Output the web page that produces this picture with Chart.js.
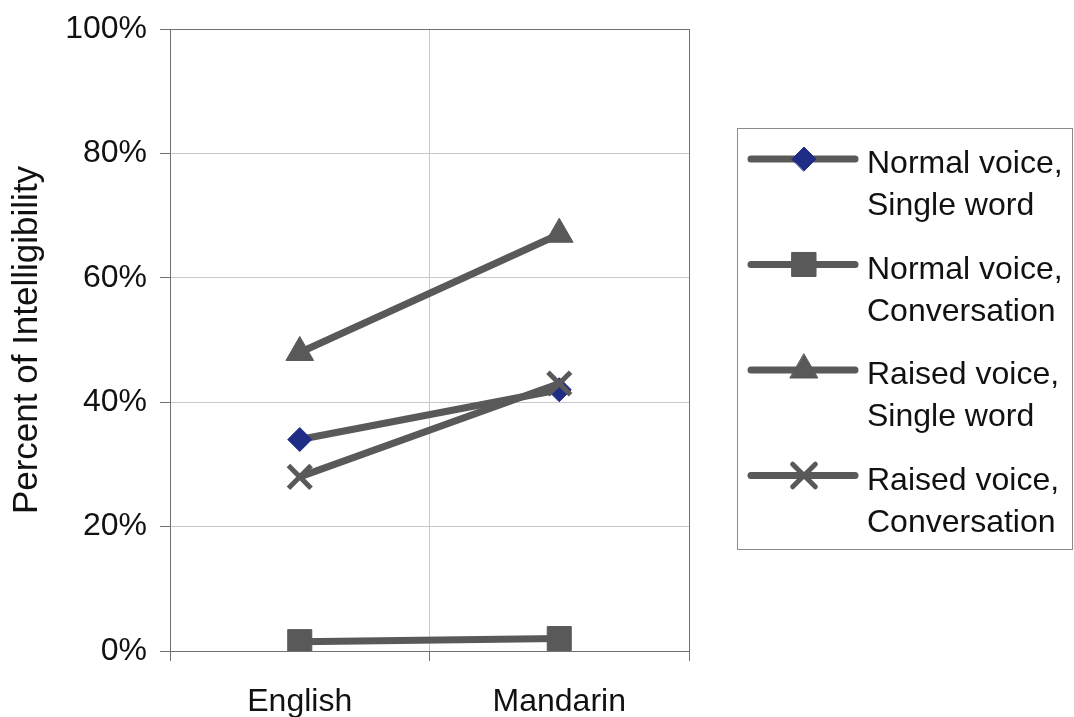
<!DOCTYPE html>
<html>
<head>
<meta charset="utf-8">
<script src="https://cdn.jsdelivr.net/npm/chart.js@4/dist/chart.umd.min.js"></script>
<style>
  body { margin: 0; background: #fff; }
  #wrap { width: 1074px; height: 717px; }
</style>
</head>
<body>
<div id="wrap"><canvas id="intelligibilityChart" width="1074" height="717"></canvas></div>
<script>
// categories on the x axis
const categories = ['English', 'Mandarin'];

// percent of intelligibility per series
const normalSingleWord = [34, 42];
const normalConversation = [1.5, 2];
const raisedSingleWord = [48, 67];
const raisedConversation = [28, 43];

// legend text, two lines each
const seriesNames = [
  ['Normal voice,', 'Single word'],
  ['Normal voice,', 'Conversation'],
  ['Raised voice,', 'Single word'],
  ['Raised voice,', 'Conversation']
];

// y axis ticks
const yTickValues = [0, 20, 40, 60, 80, 100];

const FONT = '"Liberation Sans", Arial, sans-serif';
const LINE = '#595959';
const FRAME = '#707070';
const GRID = '#c8c8c8';

// legend drawn in a box on the right, like the Excel one
const boxLegend = {
  id: 'boxLegend',
  afterDraw(chart) {
    const ctx = chart.ctx;
    ctx.save();
    ctx.strokeStyle = '#8a8a8a';
    ctx.lineWidth = 1;
    ctx.strokeRect(737.5, 128.5, 335, 421);

    chart.data.datasets.forEach((ds, i) => {
      const y = 159 + i * 105.5;
      // line sample
      ctx.strokeStyle = ds.borderColor;
      ctx.lineWidth = ds.borderWidth;
      ctx.lineCap = 'round';
      ctx.beginPath();
      ctx.moveTo(751, y);
      ctx.lineTo(855, y);
      ctx.stroke();
      // marker
      ctx.fillStyle = ds.pointBackgroundColor;
      ctx.strokeStyle = ds.pointBorderColor;
      ctx.lineWidth = ds.pointBorderWidth;
      Chart.helpers.drawPoint(ctx, {
        pointStyle: ds.pointStyle,
        radius: ds.pointRadius,
        rotation: 0,
        borderWidth: ds.pointBorderWidth
      }, 804, y);
      // text
      ctx.fillStyle = '#111';
      ctx.font = '32px ' + FONT;
      ctx.textAlign = 'left';
      ctx.textBaseline = 'alphabetic';
      seriesNames[i].forEach((line, k) => {
        ctx.fillText(line, 867, y + 14 + k * 42);
      });
    });
    ctx.restore();
  }
};

const ctx = document.getElementById('intelligibilityChart').getContext('2d');

new Chart(ctx, {
  type: 'line',
  data: {
    labels: categories,
    datasets: [
      {
        label: seriesNames[0].join(' '),
        data: normalSingleWord,
        borderColor: LINE,
        borderWidth: 7,
        pointStyle: 'rectRot',
        pointRadius: 12,
        pointBackgroundColor: '#1f2d86',
        pointBorderColor: '#1f2d86',
        pointBorderWidth: 1,
        order: 1
      },
      {
        label: seriesNames[1].join(' '),
        data: normalConversation,
        borderColor: LINE,
        borderWidth: 7,
        pointStyle: 'rect',
        pointRadius: 17,
        pointBackgroundColor: LINE,
        pointBorderColor: LINE,
        pointBorderWidth: 1,
        order: 2
      },
      {
        label: seriesNames[2].join(' '),
        data: raisedSingleWord,
        borderColor: LINE,
        borderWidth: 7,
        pointStyle: 'triangle',
        pointRadius: 16,
        pointBackgroundColor: LINE,
        pointBorderColor: LINE,
        pointBorderWidth: 1,
        order: 3
      },
      {
        label: seriesNames[3].join(' '),
        data: raisedConversation,
        borderColor: LINE,
        borderWidth: 7,
        pointStyle: 'crossRot',
        pointRadius: 16,
        pointBackgroundColor: LINE,
        pointBorderColor: LINE,
        pointBorderWidth: 5,
        order: 0
      }
    ]
  },
  options: {
    responsive: false,
    animation: false,
    events: [],
    layout: { padding: { top: 29, right: 385, bottom: 0, left: 0 } },
    plugins: {
      legend: { display: false },
      tooltip: { enabled: false }
    },
    scales: {
      x: {
        offset: true,
        grid: {
          offset: true,
          color: c => (c.index === 1 ? GRID : FRAME),
          tickColor: FRAME,
          tickLength: 10
        },
        border: { color: FRAME },
        ticks: {
          color: '#111',
          font: { family: FONT, size: 32 },
          padding: 22,
          maxRotation: 0
        },
        afterFit: scale => { scale.height = 66; }
      },
      y: {
        min: 0,
        max: 100,
        afterBuildTicks: scale => {
          scale.ticks = yTickValues.map(v => ({ value: v }));
        },
        grid: {
          color: c => (c.tick && (c.tick.value === 0 || c.tick.value === 100) ? FRAME : GRID),
          tickColor: FRAME,
          tickLength: 10
        },
        border: { color: FRAME },
        ticks: {
          color: '#111',
          font: { family: FONT, size: 32 },
          padding: 13,
          callback: v => v + '%'
        },
        title: {
          display: true,
          text: 'Percent of Intelligibility',
          color: '#111',
          font: { family: FONT, size: 35, lineHeight: 1 },
          padding: { top: 10, bottom: 0 }
        },
        afterFit: scale => {
          scale.width = 170;
          scale.paddingTop = 0;
          scale.paddingBottom = 0;
        }
      }
    }
  },
  plugins: [boxLegend]
});
</script>
</body>
</html>
